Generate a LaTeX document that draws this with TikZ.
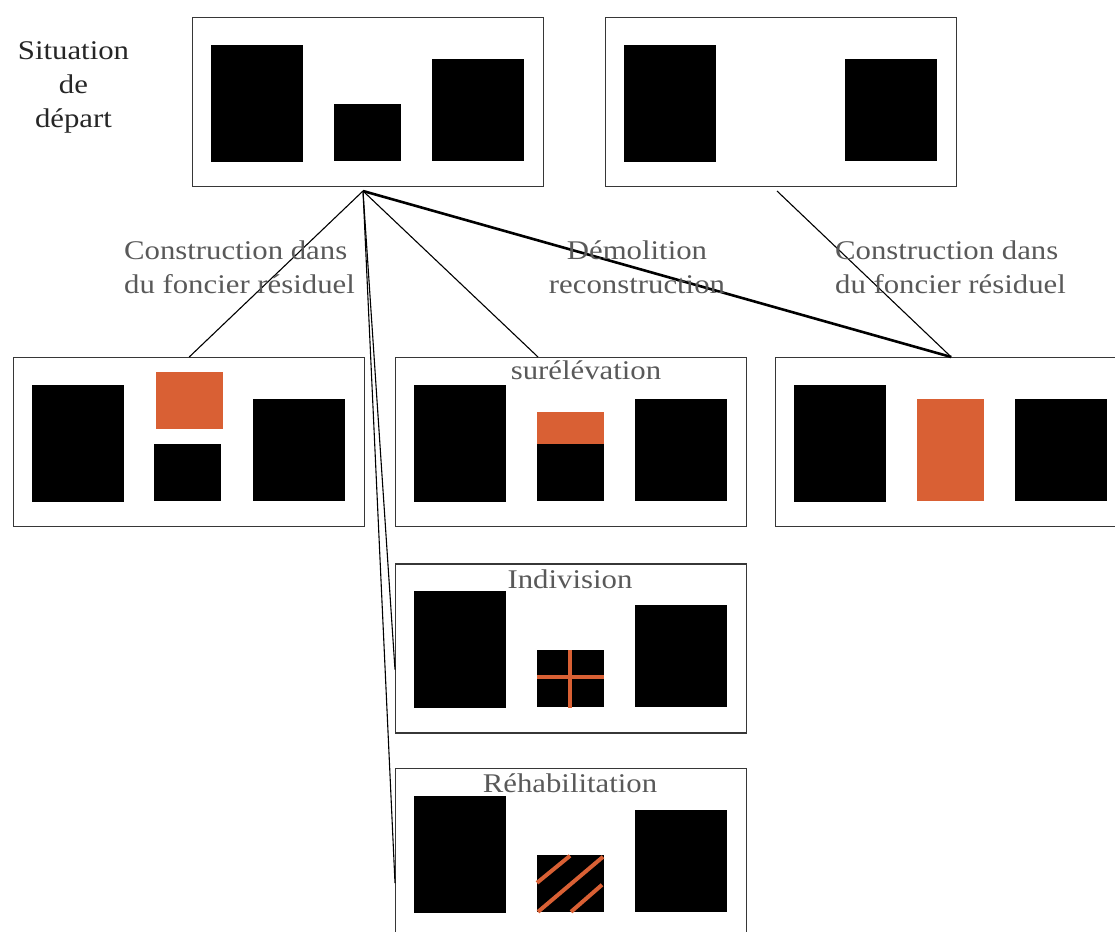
\documentclass[tikz,border=0pt]{standalone}
\usepackage{fontspec}
\setmainfont{Liberation Serif}[FakeStretch=1.14]
\usepackage{tikz}
\usetikzlibrary{positioning}
\usepackage{xcolor}
\definecolor{orangeb}{RGB}{217,96,52}
\definecolor{grisfonce}{RGB}{38,38,38}
\definecolor{grislab}{RGB}{89,89,89}
\definecolor{griscadre}{RGB}{55,55,55}

% neighbouring buildings (left and right), same in every frame
\newcommand{\voisins}[1]{%
  \fill ([shift={(19,28)}]#1.north west) rectangle ++(92,117);
  \fill ([shift={(240,42)}]#1.north west) rectangle ++(92,102);}

\begin{document}
\begin{tikzpicture}[x=1pt,y=-1pt,
  cadre/.style={draw=griscadre, line width=1.4pt, minimum width=351pt, minimum height=169pt, inner sep=0pt, anchor=north west},
  etiq/.style={text=grislab, font=\fontsize{27}{34}\selectfont, inner sep=0pt},
  lien/.style={line width=1.1pt},
  lienfort/.style={line width=2.6pt},
  trait/.style={orangeb, line width=4pt}]
  \useasboundingbox (0,0) rectangle (1115,931);
  \clip (0,0) rectangle (1115,931);

  % frames
  \node[cadre] (depart) at (192,17) {};
  \node[cadre] (departb) at (605,17) {};
  \node[cadre] (residuel) at (13,357) {};
  \node[cadre] (surelev) at (395,357) {};
  \node[cadre] (demol) at (775,357) {};
  \node[cadre, below=36pt of surelev] (indiv) {};
  \node[cadre, below=34pt of indiv] (rehab) {};

  % starting situation
  \voisins{depart}
  \fill ([shift={(142,87)}]depart.north west) rectangle ++(67,57);
  \voisins{departb}

  % construction in residual land
  \voisins{residuel}
  \fill[orangeb] ([shift={(143,15)}]residuel.north west) rectangle ++(67,57);
  \fill ([shift={(141,87)}]residuel.north west) rectangle ++(67,57);

  % surelevation
  \voisins{surelev}
  \fill[orangeb] ([shift={(142,55)}]surelev.north west) rectangle ++(67,32);
  \fill ([shift={(142,87)}]surelev.north west) rectangle ++(67,57);

  % demolition reconstruction
  \voisins{demol}
  \fill[orangeb] ([shift={(142,42)}]demol.north west) rectangle ++(67,102);

  % indivision
  \voisins{indiv}
  \fill ([shift={(142,87)}]indiv.north west) rectangle ++(67,57);
  \draw[trait] ([shift={(175,87)}]indiv.north west) -- ++(0,58);
  \draw[trait] ([shift={(142,114)}]indiv.north west) -- ++(67,0);

  % rehabilitation
  \voisins{rehab}
  \fill ([shift={(142,87)}]rehab.north west) rectangle ++(67,57);
  \draw[trait] ([shift={(142,115)}]rehab.north west) -- ++(33,-27);
  \draw[trait] ([shift={(143,144)}]rehab.north west) -- ++(65,-55);
  \draw[trait] ([shift={(176,144)}]rehab.north west) -- ++(31,-27);

  % connectors
  \coordinate (fourche) at (363,191);
  \coordinate (fourcheb) at (777,191);
  \draw[lien] (fourche) -- (residuel.north);
  \draw[lien] (fourche) -- ([xshift=143pt]surelev.north west);
  \draw[lien] (fourche) -- ([yshift=-21pt]indiv.west);
  \draw[lien] (fourche) -- ([yshift=-30pt]rehab.west);
  \draw[lienfort] (fourche) -- (demol.north);
  \draw[lien] (fourcheb) -- (demol.north);

  % labels
  \node[etiq, text=grisfonce, align=center] (titre) at (73.5,87) {Situation\\de\\départ};
  \node[etiq, align=left] (lresiduel) at (239.5,267) {Construction dans\\du foncier résiduel};
  \node[etiq, align=center] (ldemol) at (637,267) {Démolition\\reconstruction};
  \node[etiq, align=left] (lresiduelb) at (950.5,267) {Construction dans\\du foncier résiduel};
  \node[etiq] (lsurelev) at (586,370.5) {surélévation};
  \node[etiq] (lindiv) at (570,579) {Indivision};
  \node[etiq] (lrehab) at (570,783) {Réhabilitation};
\end{tikzpicture}
\end{document}
